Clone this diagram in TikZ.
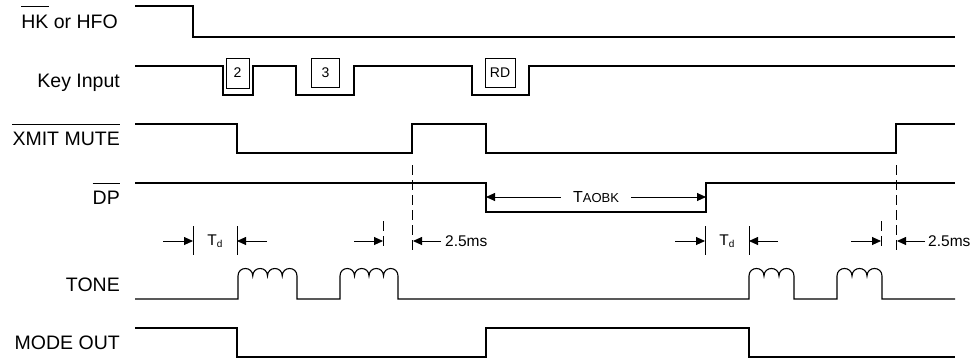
\documentclass[tikz,border=0pt]{standalone}
\usepackage{fontspec}
\setmainfont{Liberation Sans}
\usetikzlibrary{arrows.meta}
\begin{document}
\begin{tikzpicture}[x=1pt,y=-1pt,
  sig/.style={line width=1.1pt, line join=miter},
  lab/.style={inner sep=0pt, font=\fontsize{19.5}{21}\selectfont, anchor=base east},
  smalltxt/.style={inner sep=0pt, font=\fontsize{15.5}{17}\selectfont},
  dim/.style={line width=0.9pt, -{Triangle[length=9pt,width=8pt]}},
  tickline/.style={line width=0.9pt},
  dtick/.style={line width=0.9pt, dash pattern=on 10pt off 5pt},
  ovl/.style={line width=1pt},
  keybox/.style={draw, line width=1pt, minimum width=28pt, minimum height=29pt, inner sep=0pt, font=\fontsize{14}{16}\selectfont}]
\useasboundingbox (0,0) rectangle (975,360);

% labels
\node[lab] (hklab) at (118,28) {HK or HFO};
\node[inner sep=0pt, anchor=base west, font=\fontsize{19.5}{21}\selectfont] (hkw) at (hklab.base west) {\phantom{HK}};
\draw[ovl] (hkw.west |- 0,6) -- (hkw.east |- 0,6);
\node[lab] (keylab) at (120,87) {Key Input};
\node[lab] (xmlab) at (120,145) {XMIT MUTE};
\draw[ovl] (xmlab.west |- 0,124) -- (xmlab.east |- 0,124);
\node[lab] (dplab) at (120,204) {DP};
\draw[ovl] (dplab.west |- 0,183) -- (dplab.east |- 0,183);
\node[lab] (tonelab) at (120,291) {TONE};
\node[lab] (modelab) at (120,349) {MODE OUT};

% HK or HFO
\draw[sig] (135,6) -- (193,6) -- (193,37) -- (955,37);
% Key input
\draw[sig] (135,66) -- (223,66) -- (223,95) -- (253,95) -- (253,66) -- (296,66) -- (296,95)
  -- (354,95) -- (354,66) -- (472,66) -- (472,95) -- (529,95) -- (529,66) -- (955,66);
\node[keybox, minimum width=23pt, minimum height=30pt] (k2) at (237.5,73) {2};
\node[keybox] (k3) at (325.5,73) {3};
\node[keybox, minimum width=30pt] (krd) at (500,72.5) {RD};
% XMIT MUTE
\draw[sig] (135,124) -- (237,124) -- (237,153) -- (412,153) -- (412,124) -- (486,124)
  -- (486,153) -- (896,153) -- (896,124) -- (955,124);
% DP
\draw[sig] (135,183) -- (486,183) -- (486,212) -- (706,212) -- (706,183) -- (955,183);
% TAOBK
\node[inner sep=0pt, font=\fontsize{16}{18}\selectfont] (taobk) at (596,197) {T{\fontsize{13}{15}\selectfont AOBK}};
\coordinate (tl) at (486,197);
\coordinate (tr) at (706,197);
\draw[dim] ([xshift=-12pt]taobk.west) -- (tl);
\draw[dim] ([xshift=12pt]taobk.east) -- (tr);

% dashed reference lines
\draw[dtick] (412,165) -- (412,252);
\draw[dtick] (896,165) -- (896,252);
\draw[dtick] (383,221) -- (383,251);
\draw[dtick] (881,221) -- (881,251);
% Td ticks
\draw[tickline] (193,226) -- (193,255);
\draw[tickline] (237,226) -- (237,255);
\draw[tickline] (705,226) -- (705,255);
\draw[tickline] (749,226) -- (749,255);

% dimension arrows
\draw[dim] (163,241) -- (193,241);
\draw[dim] (267,241) -- (237,241);
\node[smalltxt] (td1) at (215,241) {T\raisebox{-2pt}{\fontsize{10}{11}\selectfont d}};
\draw[dim] (354,241) -- (383,241);
\draw[dim] (441,241) -- (413,241);
\node[smalltxt, anchor=west] (ms1) at (445,241) {2.5ms};

\draw[dim] (675,241) -- (705,241);
\draw[dim] (778,241) -- (749,241);
\node[smalltxt] (td2) at (727,241) {T\raisebox{-2pt}{\fontsize{10}{11}\selectfont d}};
\draw[dim] (851,241) -- (881,241);
\draw[dim] (925,241) -- (897,241);
\node[smalltxt, anchor=west] (ms2) at (928,241) {2.5ms};

% TONE
\draw[sig] (135,299) -- (238,299) -- (238,276)
  .. controls +(0,-10) and +(0,-10) .. ++(14.75,0)
  .. controls +(0,-10) and +(0,-10) .. ++(14.75,0)
  .. controls +(0,-10) and +(0,-10) .. ++(14.75,0)
  .. controls +(0,-10) and +(0,-10) .. ++(14.75,0)
  -- (297,299) -- (340,299) -- (340,276)
  .. controls +(0,-10) and +(0,-10) .. ++(14.5,0)
  .. controls +(0,-10) and +(0,-10) .. ++(14.5,0)
  .. controls +(0,-10) and +(0,-10) .. ++(14.5,0)
  .. controls +(0,-10) and +(0,-10) .. ++(14.5,0)
  -- (398,299) -- (749,299) -- (749,276)
  .. controls +(0,-10) and +(0,-10) .. ++(15,0)
  .. controls +(0,-10) and +(0,-10) .. ++(15,0)
  .. controls +(0,-10) and +(0,-10) .. ++(15,0)
  -- (794,299) -- (837,299) -- (837,276)
  .. controls +(0,-10) and +(0,-10) .. ++(15,0)
  .. controls +(0,-10) and +(0,-10) .. ++(15,0)
  .. controls +(0,-10) and +(0,-10) .. ++(15,0)
  -- (882,299) -- (955,299);

% MODE OUT
\draw[sig] (135,328) -- (237,328) -- (237,357) -- (486,357) -- (486,328) -- (749,328)
  -- (749,357) -- (955,357);
\end{tikzpicture}
\end{document}
